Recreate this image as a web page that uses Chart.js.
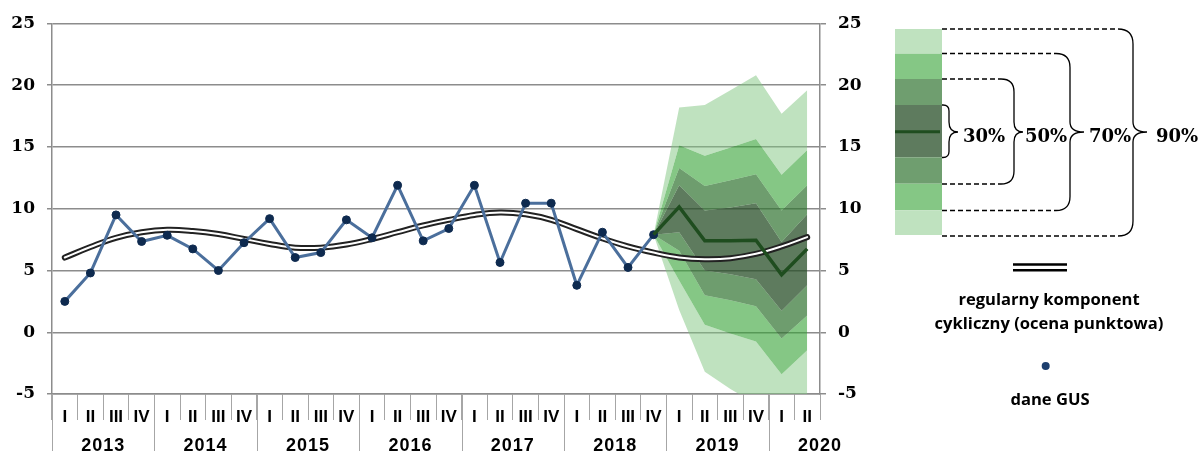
<!DOCTYPE html>
<html>
<head>
<meta charset="utf-8">
<script src="https://cdn.jsdelivr.net/npm/chart.js@4.4.1/dist/chart.umd.min.js"></script>
<style>
  html, body { margin: 0; padding: 0; background: #fff; }
  #wrap { width: 1203px; height: 451px; position: relative; }
</style>
</head>
<body>
<div id="wrap"><canvas id="chart"></canvas></div>
<script>
const quarters = [
  "I", "II", "III", "IV", "I", "II", "III", "IV", "I", "II", "III", "IV",
  "I", "II", "III", "IV", "I", "II", "III", "IV", "I", "II", "III", "IV",
  "I", "II", "III", "IV", "I", "II",
];
const years = ["2013", "2014", "2015", "2016", "2017", "2018", "2019", "2020"];

// dane GUS, 2013 I - 2018 IV
const gusData = [
  2.5, 4.8, 9.5, 7.35, 7.85, 6.75, 5.0, 7.25, 9.2, 6.05, 6.45, 9.1,
  7.65, 11.9, 7.4, 8.4, 11.9, 5.65, 10.45, 10.45, 3.8, 8.1, 5.25, 7.9,
  null, null, null, null, null, null,
];

// regularny komponent cykliczny
const cyclical = [
  6.05, 6.9, 7.65, 8.1, 8.3, 8.2, 7.95, 7.55, 7.15, 6.85, 6.85, 7.1,
  7.55, 8.1, 8.65, 9.1, 9.5, 9.7, 9.55, 9.1, 8.35, 7.6, 6.95, 6.45,
  6.06, 5.92, 6.0, 6.35, 6.95, 7.7,
];

// fan chart, 2018 IV - 2020 II
const pad = Array(23).fill(null);
const central = pad.concat([7.9, 10.15, 7.4, 7.4, 7.45, 4.65, 6.75]);
const upper90 = pad.concat([7.9, 18.2, 18.4, 19.6, 20.8, 17.7, 19.6]);
const upper70 = pad.concat([7.9, 15.15, 14.3, 14.95, 15.65, 12.75, 14.75]);
const upper50 = pad.concat([7.9, 13.3, 11.85, 12.3, 12.8, 9.85, 11.9]);
const upper30 = pad.concat([7.9, 11.9, 9.85, 10.1, 10.45, 7.3, 9.55]);
const lower30 = pad.concat([7.9, 8.1, 5.0, 4.7, 4.3, 1.75, 3.8]);
const lower50 = pad.concat([7.9, 6.6, 3.0, 2.6, 2.1, -0.5, 1.35]);
const lower70 = pad.concat([7.9, 4.2, 0.6, -0.1, -0.75, -3.4, -1.45]);
const lower90 = pad.concat([7.9, 1.8, -3.2, -4.6, -5.8, -7.5, -6.0]);

const solid = {
  light: "rgb(191,226,191)",
  medium: "rgb(133,199,133)",
  mid: "rgb(111,158,111)",
  dark: "rgb(94,123,94)",
};
const see = {
  light: "rgba(127,197,127,0.5)",
  medium: "rgba(52,162,52,0.6)",
  mid: "rgba(49,116,49,0.7)",
  dark: "rgba(40,79,40,0.75)",
};

function band(data, color) {
  return {
    data,
    borderWidth: 0,
    pointRadius: 0,
    fill: color ? "+1" : false,
    backgroundColor: color || "transparent",
    tension: 0,
  };
}

const axisFont = { family: "'DejaVu Serif', serif", size: 17, weight: "bold" };

const yearAxis = {
  id: "yearAxis",
  afterDraw(chart) {
    const ctx = chart.ctx;
    const x = chart.scales.x;
    const step = x.width / quarters.length;
    ctx.save();
    ctx.strokeStyle = "#a6a6a6";
    ctx.lineWidth = 1;
    years.forEach((year, i) => {
      const left = x.getPixelForValue(i * 4) - step / 2;
      ctx.beginPath();
      ctx.moveTo(Math.round(left) + 0.5, x.top);
      ctx.lineTo(Math.round(left) + 0.5, 451);
      ctx.stroke();
      ctx.fillStyle = "#000";
      ctx.font = "bold 18px 'Liberation Sans', Arial, sans-serif";
      ctx.letterSpacing = "1px";
      ctx.textAlign = "center";
      ctx.textBaseline = "alphabetic";
      ctx.fillText(year, left + step * 2, 451);
    });
    ctx.restore();
  },
};

function drawBrace(ctx, b) {
  const mid = 132;
  const r2 = 10;
  ctx.setLineDash(b.dashed ? [5, 3] : []);
  ctx.beginPath();
  ctx.moveTo(942, b.top);
  ctx.lineTo(b.xv - b.r, b.top);
  ctx.moveTo(942, b.bottom);
  ctx.lineTo(b.xv - b.r, b.bottom);
  ctx.stroke();
  ctx.setLineDash([]);
  ctx.beginPath();
  ctx.moveTo(b.xv - b.r, b.top);
  ctx.quadraticCurveTo(b.xv, b.top, b.xv, b.top + b.r);
  ctx.lineTo(b.xv, mid - r2);
  ctx.quadraticCurveTo(b.xv, mid, b.tip, mid);
  ctx.quadraticCurveTo(b.xv, mid, b.xv, mid + r2);
  ctx.lineTo(b.xv, b.bottom - b.r);
  ctx.quadraticCurveTo(b.xv, b.bottom, b.xv - b.r, b.bottom);
  ctx.stroke();
}

// font size so that the text is the given width
function fitFont(ctx, text, width, family) {
  ctx.font = "bold 20px " + family;
  const size = 20 * width / ctx.measureText(text).width;
  return "bold " + size.toFixed(2) + "px " + family;
}

const fanLegend = {
  id: "fanLegend",
  afterDraw(chart) {
    const ctx = chart.ctx;
    ctx.save();

    const edges = [29, 53.7, 79, 105, 157.3, 183.7, 210.3, 235];
    const fills = [solid.light, solid.medium, solid.mid, solid.dark, solid.mid, solid.medium, solid.light];
    fills.forEach((c, i) => {
      ctx.fillStyle = c;
      ctx.fillRect(895, edges[i], 47, edges[i + 1] - edges[i]);
    });
    ctx.strokeStyle = "#1f4d1f";
    ctx.lineWidth = 3;
    ctx.beginPath();
    ctx.moveTo(895, 131.7);
    ctx.lineTo(940, 131.7);
    ctx.stroke();

    ctx.strokeStyle = "#000";
    ctx.lineWidth = 1.3;
    drawBrace(ctx, { top: 105, bottom: 157.5, xv: 949, r: 6, tip: 958, dashed: false });
    drawBrace(ctx, { top: 79, bottom: 184, xv: 1014, r: 13, tip: 1023, dashed: true });
    drawBrace(ctx, { top: 53.5, bottom: 210.5, xv: 1070, r: 14, tip: 1084, dashed: true });
    drawBrace(ctx, { top: 29, bottom: 236, xv: 1133, r: 15, tip: 1147, dashed: true });

    ctx.fillStyle = "#000";
    ctx.font = "bold 18px 'DejaVu Serif', serif";
    ctx.textAlign = "left";
    ctx.textBaseline = "alphabetic";
    ctx.fillText("30%", 963, 141.5);
    ctx.fillText("50%", 1025, 141.5);
    ctx.fillText("70%", 1089, 141.5);
    ctx.fillText("90%", 1156, 141.5);

    ctx.strokeStyle = "#000";
    ctx.lineWidth = 2.5;
    ctx.beginPath();
    ctx.moveTo(1013, 264.5);
    ctx.lineTo(1067, 264.5);
    ctx.moveTo(1013, 270.3);
    ctx.lineTo(1067, 270.3);
    ctx.stroke();

    const family = "'Open Sans', 'Noto Sans', sans-serif";
    ctx.font = fitFont(ctx, "cykliczny (ocena punktowa)", 229, family);
    ctx.textAlign = "center";
    ctx.fillText("regularny komponent", 1049, 305);
    ctx.fillText("cykliczny (ocena punktowa)", 1049, 329);

    ctx.fillStyle = "#1d3f6e";
    ctx.beginPath();
    ctx.arc(1045.7, 366, 4, 0, Math.PI * 2);
    ctx.fill();

    ctx.fillStyle = "#000";
    ctx.fillText("dane GUS", 1050, 405);
    ctx.restore();
  },
};

new Chart(document.getElementById("chart"), {
  type: "line",
  data: {
    labels: quarters,
    datasets: [
      {
        data: central,
        borderColor: "#1f4d1f",
        borderWidth: 3.5,
        pointRadius: 0,
        fill: false,
        tension: 0,
      },
      {
        data: gusData,
        borderColor: "#4b6f9c",
        borderWidth: 3,
        pointRadius: 4,
        pointBackgroundColor: "#0e2a4f",
        pointBorderColor: "#0e2a4f",
        pointBorderWidth: 1,
        fill: false,
        tension: 0,
      },
      {
        data: cyclical,
        borderColor: "#ffffff",
        borderWidth: 2,
        borderCapStyle: "round",
        pointRadius: 0,
        fill: false,
        tension: 0.4,
      },
      {
        data: cyclical,
        borderColor: "#222222",
        borderWidth: 6,
        borderCapStyle: "round",
        pointRadius: 0,
        fill: false,
        tension: 0.4,
      },
      band(upper90, see.light),
      band(upper70, see.medium),
      band(upper50, see.mid),
      band(upper30, see.dark),
      band(lower30, see.mid),
      band(lower50, see.medium),
      band(lower70, see.light),
      band(lower90, null),
    ],
  },
  options: {
    responsive: true,
    maintainAspectRatio: false,
    animation: false,
    devicePixelRatio: 1,
    layout: { padding: { top: 23.5, left: 0, right: 0, bottom: 0 } },
    plugins: { legend: { display: false }, tooltip: { enabled: false } },
    scales: {
      x: {
        offset: true,
        afterFit: (scale) => { scale.height = 57; },
        grid: {
          offset: true,
          drawOnChartArea: false,
          drawTicks: true,
          tickLength: 26,
          color: "#a6a6a6",
          lineWidth: 1,
        },
        border: { color: "#8c8c8c", width: 1.5 },
        ticks: {
          autoSkip: false,
          maxRotation: 0,
          padding: -13,
          color: "#000",
          font: { family: "'Liberation Sans Narrow', 'Arial Narrow', 'Liberation Sans', sans-serif", size: 17, weight: "bold" },
        },
      },
      y: {
        position: "left",
        min: -5,
        max: 25,
        afterFit: (scale) => { scale.width = 52; },
        grid: { color: "#8c8c8c", lineWidth: 1.5, tickLength: 5 },
        border: { color: "#8c8c8c", width: 1.5 },
        ticks: { stepSize: 5, padding: 12, color: "#000", font: axisFont },
      },
      y2: {
        position: "right",
        min: -5,
        max: 25,
        afterFit: (scale) => { scale.width = 383; },
        grid: { drawOnChartArea: false, color: "#8c8c8c", lineWidth: 1.5, tickLength: 6 },
        border: { color: "#8c8c8c", width: 1.5 },
        ticks: { stepSize: 5, padding: 12, color: "#000", font: axisFont },
      },
    },
  },
  plugins: [yearAxis, fanLegend],
});
</script>
</body>
</html>
